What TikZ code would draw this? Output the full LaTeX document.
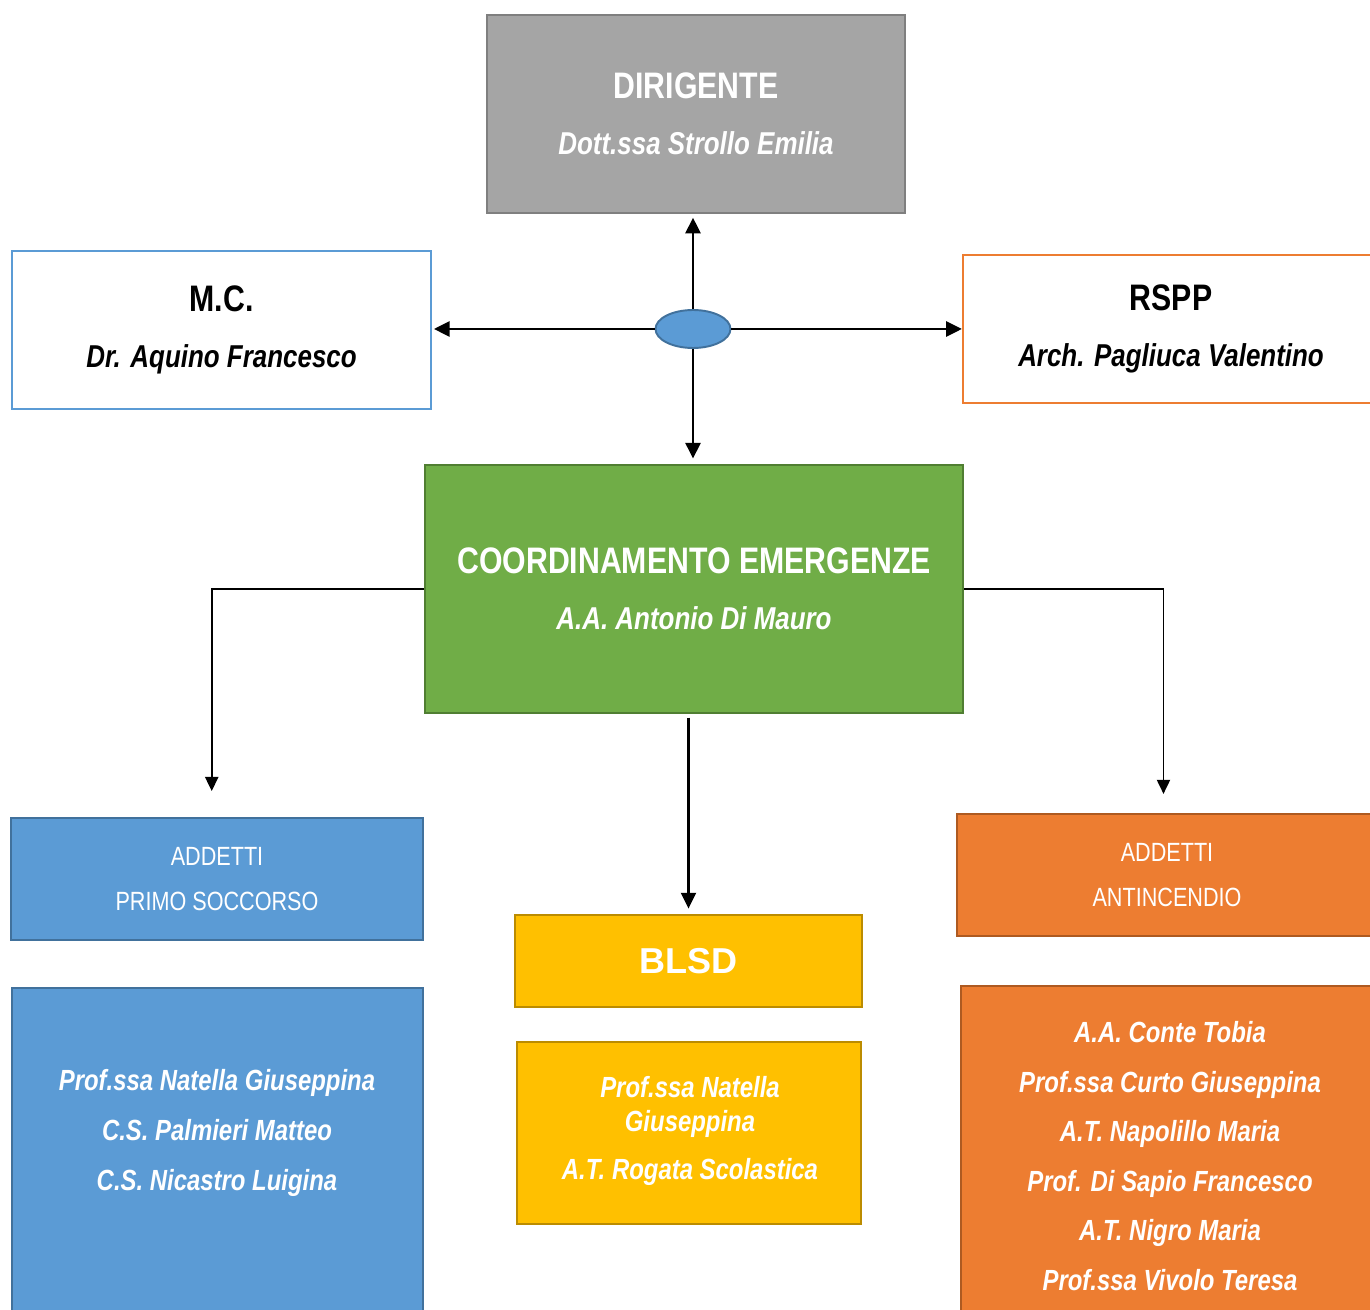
\documentclass[tikz,border=0pt]{standalone}
\usepackage{fontspec}
\setmainfont{Liberation Sans}[FakeStretch=0.82]
\newfontfamily\widefont{Liberation Sans}
\usetikzlibrary{shapes.geometric,arrows.meta}
\definecolor{grayfill}{HTML}{A5A5A5}
\definecolor{graydraw}{HTML}{7F7F7F}
\definecolor{bluefill}{HTML}{5B9BD5}
\definecolor{bluedraw}{HTML}{41719C}
\definecolor{greenfill}{HTML}{70AD47}
\definecolor{greendraw}{HTML}{507E32}
\definecolor{orangefill}{HTML}{ED7D31}
\definecolor{orangedraw}{HTML}{AE5A21}
\definecolor{yellowfill}{HTML}{FFC000}
\definecolor{yellowdraw}{HTML}{BC8C00}
\begin{document}
\begin{tikzpicture}[x=0.02cm,y=-0.02cm]
    \tikzstyle{box}=[rectangle,line width=1.3pt,align=center,inner sep=0pt]
    \tikzstyle{head}=[box,font=\fontsize{18}{31.7}\selectfont\bfseries\itshape]
    \tikzstyle{team}=[box,text=white,font=\fontsize{15}{26}\selectfont]
    \tikzstyle{names}=[align=center,text=white,font=\fontsize{16.6}{28.2}\selectfont\bfseries\itshape]
    \tikzstyle{big}=[arrows={-Triangle[length=9pt,width=8.5pt]},line width=1.6pt]
    \tikzstyle{thin}=[arrows={-Triangle[length=8pt,width=7.5pt]},line width=0.9pt]
    \useasboundingbox (0,0) rectangle (1370,1310);

    % top level
    \node[head,fill=grayfill,draw=graydraw,text=white,minimum width=8.36cm,minimum height=3.96cm]
        (dir) at (696,114) {{\fontsize{21}{31.7}\selectfont\upshape DIRIGENTE}\\Dott.ssa Strollo Emilia};
    \node[head,fill=white,draw=bluefill,minimum width=8.38cm,minimum height=3.16cm]
        (mc) at (221.5,330) {{\fontsize{21}{31.7}\selectfont\upshape M.C.}\\Dr. Aquino Francesco};
    \node[head,fill=white,draw=orangefill,minimum width=8.32cm,minimum height=2.96cm]
        (rspp) at (1171,329) {{\fontsize{21}{31.7}\selectfont\upshape RSPP}\\Arch. Pagliuca Valentino};
    \node[ellipse,fill=bluefill,draw=bluedraw,line width=1.1pt,minimum width=1.5cm,minimum height=0.76cm,inner sep=0pt]
        (hub) at (693,329) {};
    \node[head,fill=greenfill,draw=greendraw,text=white,minimum width=10.76cm,minimum height=4.96cm]
        (coord) at (694,589) {{\fontsize{21}{31.7}\selectfont\upshape COORDINAMENTO EMERGENZE}\\A.A. Antonio Di Mauro};

    \draw[big,shorten >=2pt] (hub.north) -- (hub.north |- dir.south);
    \draw[big,shorten >=1pt] (hub.west) -- (hub.west -| mc.east);
    \draw[big] (hub.east) -- (hub.east -| rspp.west);
    \draw[big,shorten >=3pt] (hub.south) -- (hub.south |- coord.north);

    % teams
    \node[team,fill=bluefill,draw=bluedraw,minimum width=8.24cm,minimum height=2.44cm]
        (soccorso) at (217,879) {ADDETTI\\PRIMO SOCCORSO};
    \node[team,fill=orangefill,draw=orangedraw,minimum width=8.4cm,minimum height=2.44cm]
        (antincendio) at (1167,875) {ADDETTI\\ANTINCENDIO};
    \node[box,fill=yellowfill,draw=yellowdraw,text=white,minimum width=6.94cm,minimum height=1.84cm,
        font=\widefont\fontsize{20.5}{24}\selectfont\bfseries]
        (blsd) at (688.5,961) {BLSD};

    \draw[thin,shorten >=14.7pt] (coord.west) -| ([xshift=-3]soccorso.north);
    \draw[thin,shorten >=10.8pt] (coord.east) -| ([xshift=-2]antincendio.north);
    \draw[big,line width=1.2pt,shorten <=2pt,shorten >=3pt] (coord.south -| blsd.north) -- (blsd.north);

    % lists
    \node[box,fill=bluefill,draw=bluedraw,minimum width=8.22cm,minimum height=6.84cm]
        (soccorsobox) at (217.5,1159) {};
    \node[names] (soccorsolist) at (217,1133)
        {Prof.ssa Natella Giuseppina\\C.S. Palmieri Matteo\\C.S. Nicastro Luigina};
    \node[box,fill=yellowfill,draw=yellowdraw,minimum width=6.88cm,minimum height=3.64cm]
        (blsdbox) at (689,1133) {};
    \node[names,font=\fontsize{16.6}{19.3}\selectfont\bfseries\itshape] (blsdlist) at (690,1131)
        {Prof.ssa Natella\\Giuseppina\\[8.5pt]A.T. Rogata Scolastica};
    \node[box,fill=orangefill,draw=orangedraw,minimum width=8.38cm,minimum height=6.88cm]
        (antincendiobox) at (1170.5,1158) {};
    \node[names] (antincendiolist) at (1170,1156)
        {A.A. Conte Tobia\\Prof.ssa Curto Giuseppina\\A.T. Napolillo Maria\\Prof. Di Sapio Francesco\\A.T. Nigro Maria\\Prof.ssa Vivolo Teresa};
\end{tikzpicture}
\end{document}
